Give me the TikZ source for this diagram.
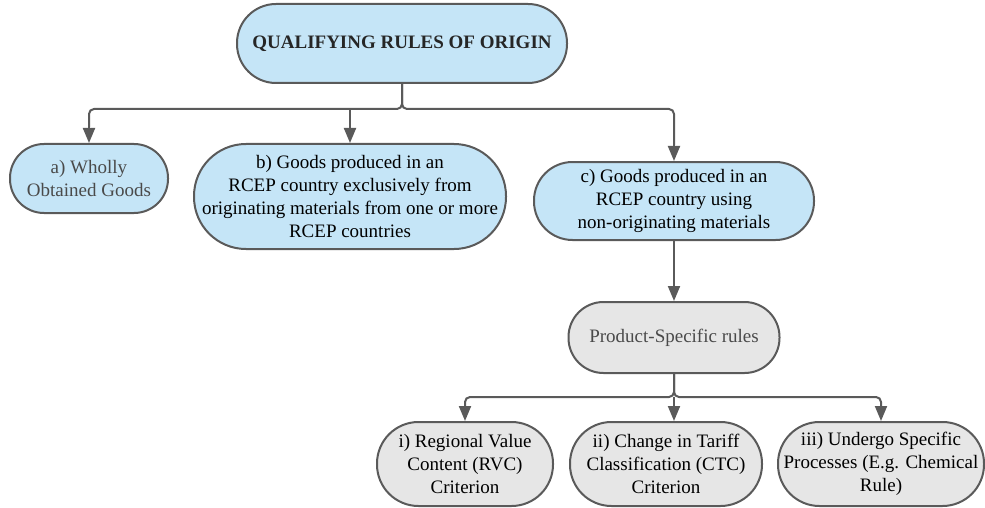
\documentclass[tikz,border=0pt]{standalone}
\usepackage{fontspec}
\setmainfont{Liberation Serif}
\usetikzlibrary{arrows.meta}
\definecolor{pillblue}{HTML}{C5E5F7}
\definecolor{pillgray}{HTML}{E6E6E6}
\definecolor{edgegray}{HTML}{5A5A5A}
\definecolor{txtgray}{HTML}{4A4A4A}
\tikzset{
  pill/.style={draw=edgegray, line width=2pt, align=center, inner sep=0pt,
    font=\fontsize{19}{23}\selectfont, text=black},
  bluepill/.style={pill, fill=pillblue},
  graypill/.style={pill, fill=pillgray},
  conn/.style={draw=edgegray, line width=2pt, rounded corners=5pt},
  tipseg/.style={draw=edgegray, line width=2pt, -{Triangle[width=12pt,length=15pt]}},
}
\begin{document}
\begin{tikzpicture}[x=1pt,y=-1pt]
\useasboundingbox (0,0) rectangle (985,508);
\node[bluepill, minimum width=330pt, minimum height=79pt, rounded corners=39pt, text=black!85, font=\fontsize{19}{23}\selectfont\bfseries] (title) at (402,43.5) {QUALIFYING RULES OF ORIGIN};
\node[bluepill, minimum width=158pt, minimum height=69pt, rounded corners=34pt, text=txtgray] (a) at (89,178.5) {a) Wholly\\Obtained Goods};
\node[bluepill, minimum width=312pt, minimum height=105pt, rounded corners=52pt] (b) at (350,196.5) {b) Goods produced in an\\RCEP country exclusively from\\originating materials from one or more\\RCEP countries};
\node[bluepill, minimum width=280pt, minimum height=78pt, rounded corners=38.5pt] (c) at (674,201) {c) Goods produced in an\\RCEP country using\\non-originating materials};
\node[graypill, minimum width=211pt, minimum height=71pt, rounded corners=35pt, text=txtgray] (ps) at (674,337.5) {Product-Specific rules};
\node[graypill, minimum width=176pt, minimum height=84pt, rounded corners=41.5pt] (i) at (465,464) {i) Regional Value\\Content (RVC)\\Criterion};
\node[graypill, minimum width=192pt, minimum height=84pt, rounded corners=41.5pt] (ii) at (666,464) {ii) Change in Tariff\\Classification (CTC)\\Criterion};
\node[graypill, minimum width=206pt, minimum height=84pt, rounded corners=41.5pt] (iii) at (881,464) {iii) Undergo Specific\\Processes (E.g. Chemical\\Rule)};
\coordinate (h1) at (402,109);
\coordinate (h2) at (674,397);
% connector lines with rounded bends
\draw[conn] (title.south) -- (h1) -| ([yshift=16pt]a.north);
\draw[conn] (title.south) -- (h1) -| ([yshift=16pt]c.north);
\draw[conn] (ps.south) -- (h2) -| ([yshift=12pt]i.north);
\draw[conn] (ps.south) -- (h2) -| ([yshift=12pt]iii.north);
% arrow ends
\draw[tipseg] ([yshift=20pt]a.north) -- (a.north);
\draw[tipseg] (b.north |- h1) -- (b.north);
\draw[tipseg] ([yshift=20pt]c.north) -- (c.north);
\draw[tipseg] (c.south) -- (ps.north);
\draw[tipseg] ([yshift=16pt]i.north) -- (i.north);
\draw[tipseg] (h2) -- (h2 |- ii.north);
\draw[tipseg] ([yshift=16pt]iii.north) -- (iii.north);
\end{tikzpicture}
\end{document}
